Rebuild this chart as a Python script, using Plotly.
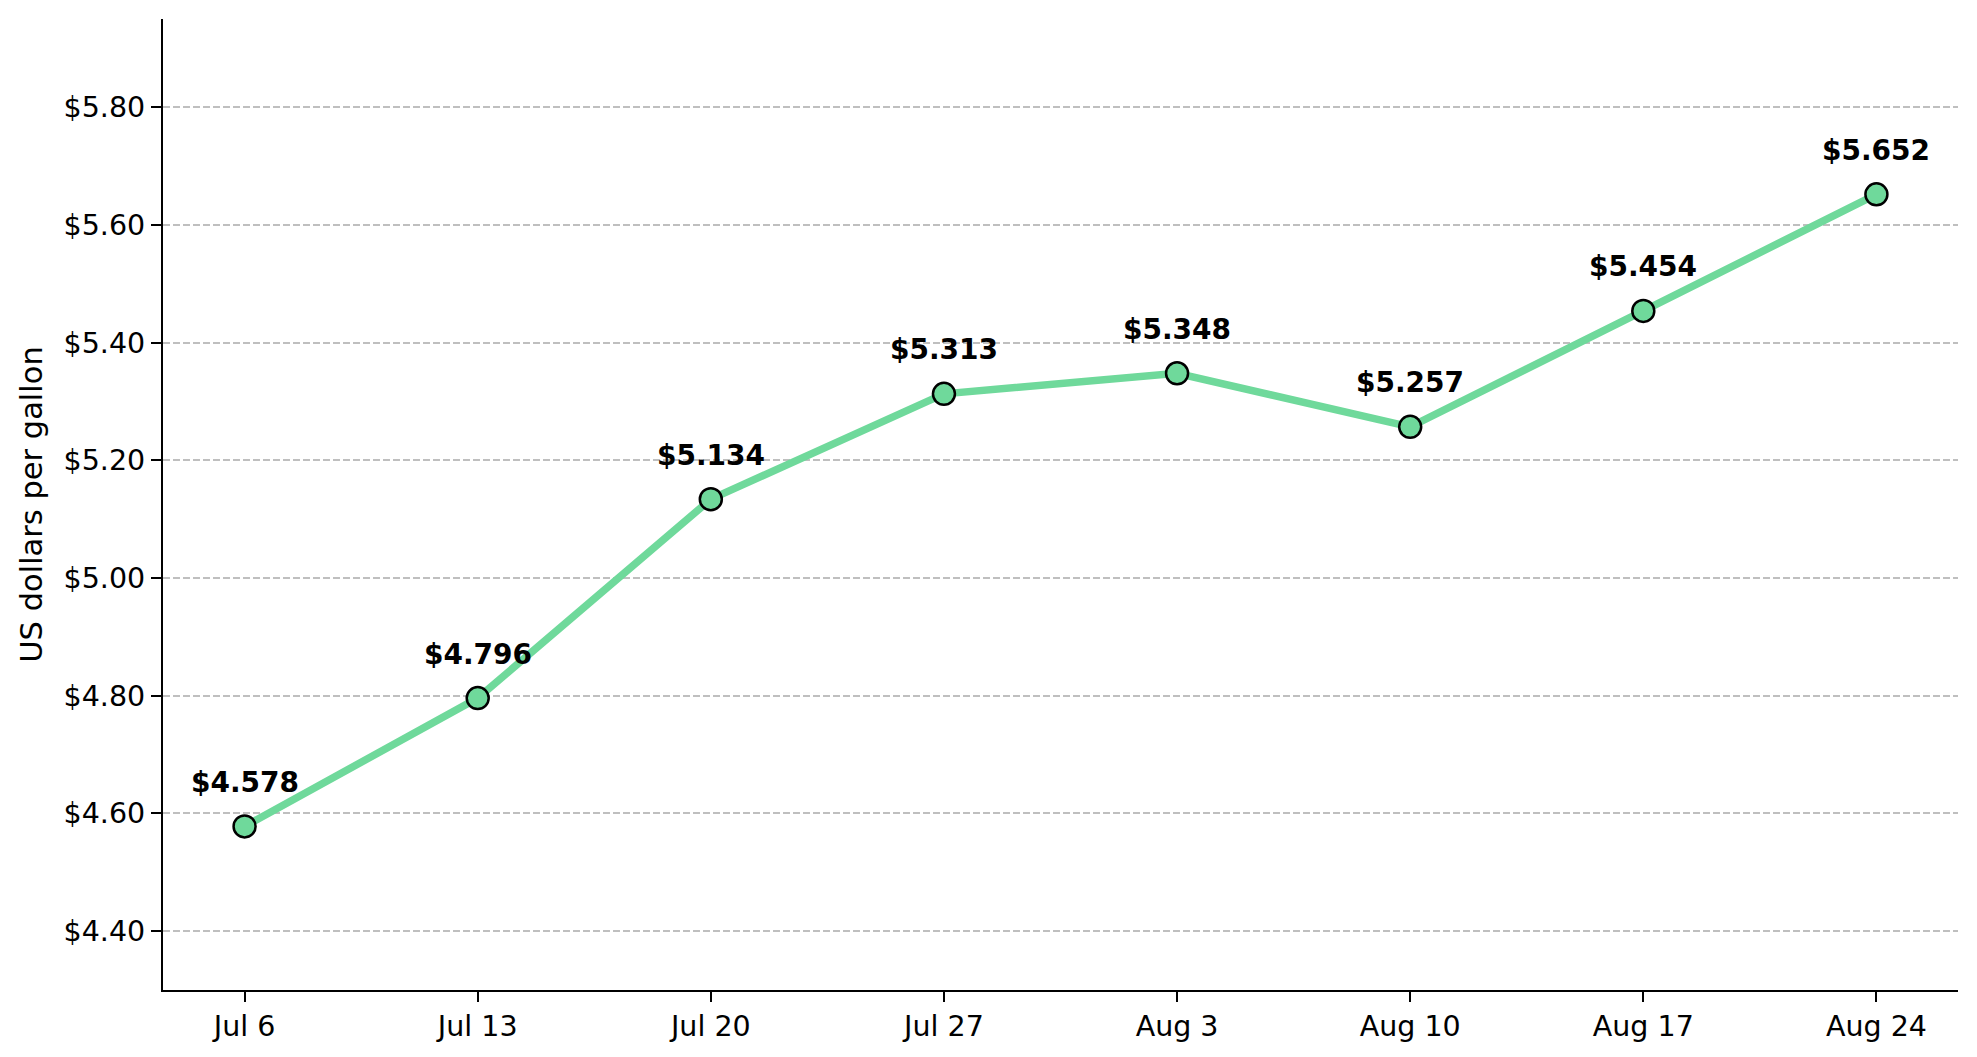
import plotly.graph_objects as go

weeks = ["Jul 6", "Jul 13", "Jul 20", "Jul 27", "Aug 3", "Aug 10", "Aug 17", "Aug 24"]
prices = [4.578, 4.796, 5.134, 5.313, 5.348, 5.257, 5.454, 5.652]
y_ticks = [4.40, 4.60, 4.80, 5.00, 5.20, 5.40, 5.60, 5.80]
y_tick_labels = ["$4.40", "$4.60", "$4.80", "$5.00", "$5.20", "$5.40", "$5.60", "$5.80"]
point_labels = ["$%.3f" % p for p in prices]

LINE = "#6fd99b"
FONT = "DejaVu Sans"

x_idx = list(range(len(weeks)))

fig = go.Figure()
fig.add_trace(go.Scatter(
    x=x_idx, y=prices, mode="lines+markers",
    line=dict(color=LINE, width=7.5),
    marker=dict(size=22, color=LINE, line=dict(color="black", width=2.5)),
    hoverinfo="skip", showlegend=False,
))

for xi, p, lab in zip(x_idx, prices, point_labels):
    fig.add_annotation(
        x=xi, y=p, text="<b>%s</b>" % lab, showarrow=False,
        yanchor="middle", yshift=44,
        font=dict(family=FONT, size=28, color="black"),
    )

fig.update_layout(
    width=1969, height=1049,
    margin=dict(l=155, r=19, t=11, b=67),
    paper_bgcolor="white", plot_bgcolor="white",
    font=dict(family=FONT, size=28, color="black"),
)
fig.update_xaxes(
    range=[-0.35, 7.35], tickvals=x_idx, ticktext=weeks,
    showgrid=False, zeroline=False,
    showline=True, linecolor="black", linewidth=2.2,
    ticks="outside", ticklen=10, tickwidth=2.2, tickcolor="black",
    tickfont=dict(family=FONT, size=28.5, color="black"),
)
fig.update_yaxes(
    range=[4.30, 5.95], tickvals=y_ticks, ticktext=y_tick_labels,
    showgrid=True, gridcolor="rgba(180,180,180,0.85)", gridwidth=1.5, griddash="7px,3px",
    zeroline=False,
    showline=True, linecolor="black", linewidth=2.2,
    ticks="outside", ticklen=10, tickwidth=2.2, tickcolor="black",
    tickfont=dict(family=FONT, size=28.5, color="black"),
    title=dict(text="US dollars per gallon", font=dict(family=FONT, size=30.5, color="black"), standoff=12),
)

fig.write_html("out.html")
